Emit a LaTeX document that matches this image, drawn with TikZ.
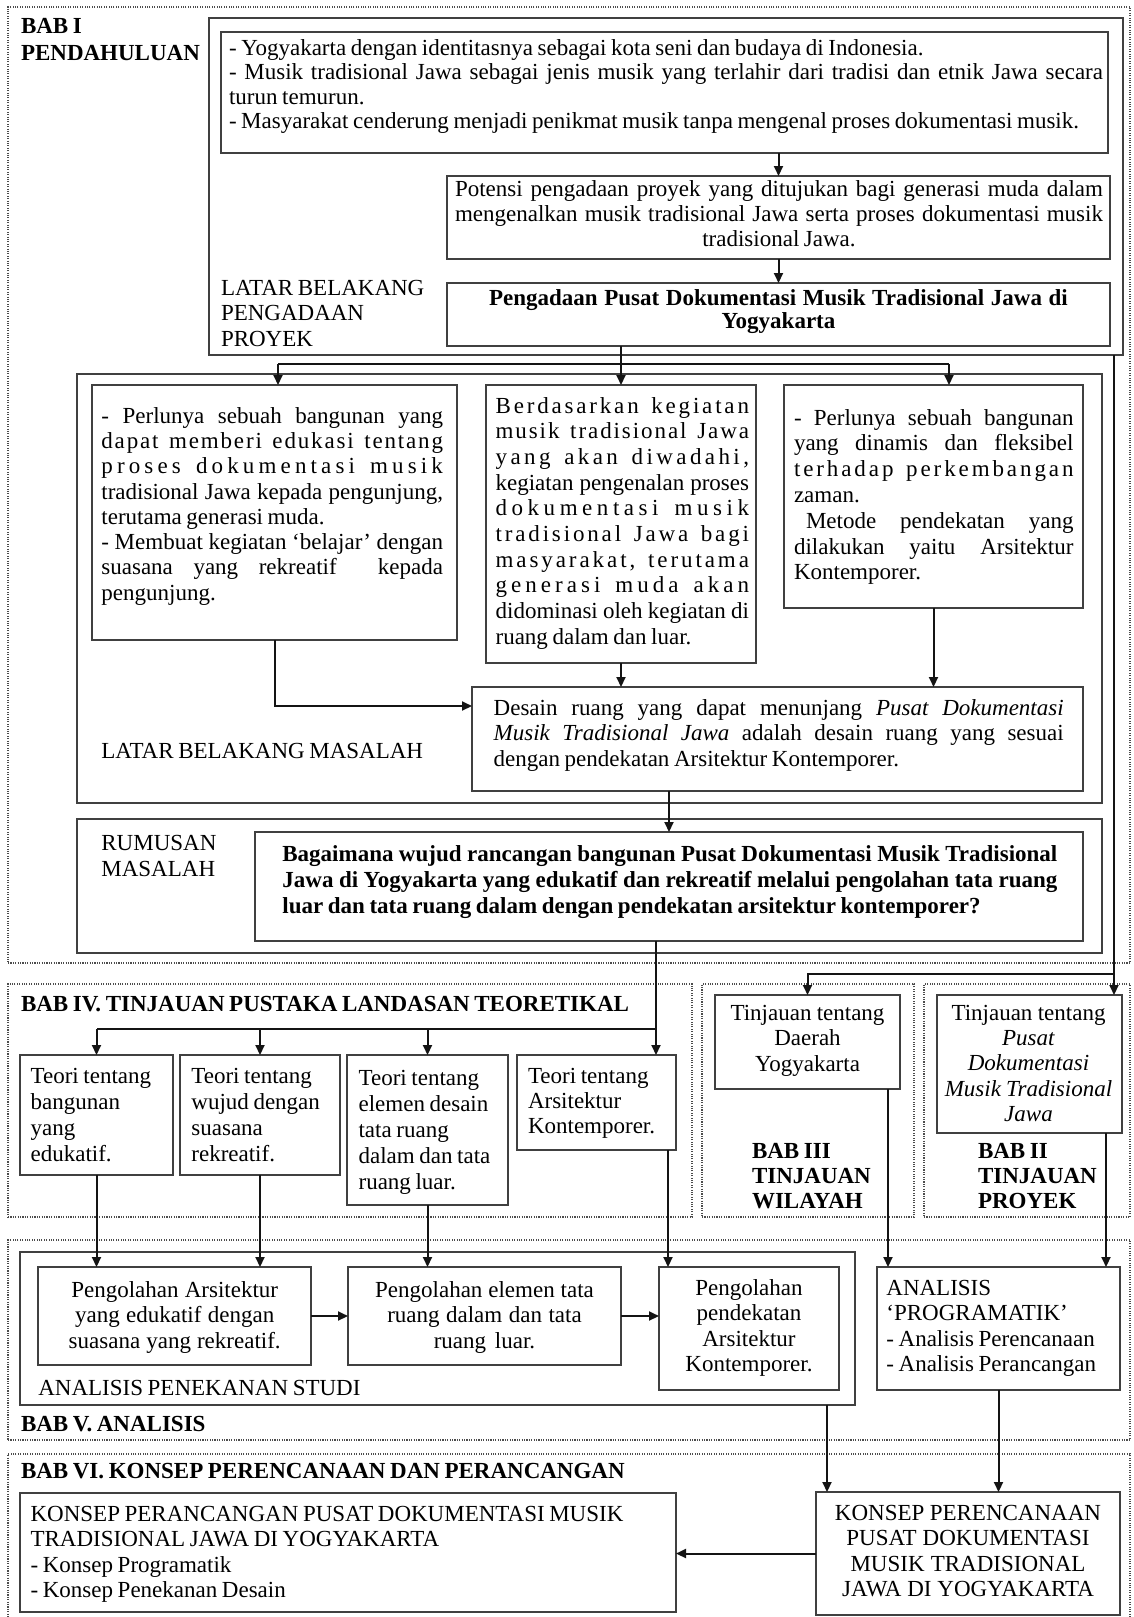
\documentclass[tikz,border=0pt]{standalone}
\usepackage{fontspec}
\setmainfont{Liberation Serif}[WordSpace=0.8]
\usetikzlibrary{arrows.meta,calc}
\makeatletter
\newcommand\spreadword[1]{\@tfor\sw@ch:=#1\do{\sw@ch\hfil}\unskip}
\def\ls@words#1 #2\@nil{\spreadword{#1}\if\relax\detokenize{#2}\relax\else\hfil\hspace{0.3em}\hfil\ls@words#2\@nil\fi}
\newcommand\LS[1]{\makebox[\hsize][s]{\ls@words#1 \@nil}\\}
\makeatother
\newcommand\J[1]{\makebox[\hsize][s]{#1}\\}
\tikzset{
  box/.style={draw=black!75, line width=1.3pt, anchor=north west, inner sep=0pt, outer sep=0pt},
  sect/.style={draw=black!70, line width=1.2pt, dash pattern=on 1.1pt off 1.3pt, anchor=north west, inner sep=0pt, outer sep=0pt},
  arr/.style={line width=2pt, draw=black!92, -{Triangle[length=10pt,width=9pt]}},
  ln/.style={line width=2pt, draw=black!92},
  tnode/.style={inner sep=0pt, outer sep=0pt, anchor=north west, align=left},
  hd/.style={inner sep=0pt, outer sep=0pt, anchor=base west, font=\fontsize{23}{25}\selectfont\bfseries},
  lbl/.style={inner sep=0pt, outer sep=0pt, anchor=base west, font=\fontsize{23}{25}\selectfont},
}
\newcommand\bx[6][box]{\node[#1,minimum width={#5pt-#3pt},minimum height={#6pt-#4pt}] (#2) at (#3,#4) {};}
\newcommand\tn[6]{\node[tnode,font={\fontsize{23}{#5}\selectfont},#2] (#1) at (#3,{#4-0.7*#5}) {\spaceskip=0pt\xspaceskip=0pt\strut #6};}
\begin{document}
\begin{tikzpicture}[x=1pt,y=-1pt]
\useasboundingbox (0,0) rectangle (1133,1617);
\fill[white] (0,0) rectangle (1133,1617);
% sections
\bx[sect]{s1}{8}{7}{1130}{963}
\bx[sect]{s4}{8}{984}{692}{1217}
\bx[sect]{s3}{702}{984}{914}{1217}
\bx[sect]{s2}{924}{984}{1130}{1217}
\bx[sect]{s5}{8}{1240}{1130}{1440}
\bx[sect]{s6}{8}{1454}{1130}{1640}
% boxes
\bx{LBP}{209}{18}{1123}{355}
\bx{box1}{221}{32}{1108}{153}
\bx{potensi}{447}{176}{1110}{259}
\bx{pengadaan}{447}{283}{1110}{346}
\bx{LBM}{77}{374}{1102}{803}
\bx{boxA}{92}{385}{457}{640}
\bx{boxB}{486}{385}{756}{663}
\bx{boxC}{784}{385}{1083}{608}
\bx{desain}{472}{687}{1083}{791}
\bx{rumusan}{77}{819}{1102}{953}
\bx{bagaimana}{255}{832}{1083}{941}
\bx{T1}{20}{1055}{173}{1175}
\bx{T2}{180}{1055}{340}{1175}
\bx{T3}{347}{1055}{508}{1205}
\bx{T4}{517}{1055}{676}{1150}
\bx{TD}{715}{995}{900}{1089}
\bx{TP}{937}{995}{1122}{1133}
\bx{APS}{20}{1252}{855}{1405}
\bx{P1}{38}{1267}{311}{1365}
\bx{P2}{348}{1267}{621}{1365}
\bx{P3}{659}{1267}{839}{1390}
\bx{AP}{877}{1267}{1120}{1390}
\bx{KPR}{20}{1493}{676}{1612}
\bx{KPE}{816}{1492}{1120}{1615}
% headings
\node[hd] (h1a) at (21,33.3) {BAB I};
\node[hd] (h1b) at (21,60) {PENDAHULUAN};
\node[hd] (h4) at (21,1011.7) {BAB IV. TINJAUAN PUSTAKA LANDASAN TEORETIKAL};
\node[hd] (h5) at (21,1431.7) {BAB V. ANALISIS};
\node[hd] (h6) at (21,1478) {BAB VI. KONSEP PERENCANAAN DAN PERANCANGAN};
\node[lbl] (tlbm) at (101.4,758) {LATAR BELAKANG MASALAH};
\node[lbl] (taps) at (38.3,1395) {ANALISIS PENEKANAN STUDI};
% texts
\tn{t1}{text width=874pt}{229}{55}{24.5}{- Yogyakarta dengan identitasnya sebagai kota seni dan budaya di Indonesia.\\\J{- Musik tradisional Jawa sebagai jenis musik yang terlahir dari tradisi dan etnik Jawa secara}turun temurun.\\\makebox[850pt][s]{- Masyarakat cenderung menjadi penikmat musik tanpa mengenal proses dokumentasi musik.}}
\tn{tpot}{text width=648pt}{455}{196.7}{25}{\J{Potensi pengadaan proyek yang ditujukan bagi generasi muda dalam}\J{mengenalkan musik tradisional Jawa serta proses dokumentasi musik}\makebox[\hsize][c]{tradisional Jawa.}}
\tn{tpeng}{anchor=north,text width=660pt,align=center}{778.5}{305}{23.4}{\bfseries Pengadaan Pusat Dokumentasi Musik Tradisional Jawa di\\Yogyakarta}
\tn{tlbp}{text width=220pt}{221}{295}{25.8}{LATAR BELAKANG\\PENGADAAN\\PROYEK}
\tn{tA}{text width=341.6pt}{101.4}{423.3}{25.25}{\J{- Perlunya sebuah bangunan yang}\LS{dapat memberi edukasi tentang}\LS{proses dokumentasi musik}\J{tradisional Jawa kepada pengunjung,}terutama generasi muda.\\\J{- Membuat kegiatan ‘belajar’ dengan}\J{suasana yang rekreatif\ \ kepada}pengunjung.}
\tn{tB}{text width=253.4pt}{495.6}{413}{25.7}{\LS{Berdasarkan kegiatan}\LS{musik tradisional Jawa}\LS{yang akan diwadahi,}\J{kegiatan pengenalan proses}\LS{dokumentasi musik}\LS{tradisional Jawa bagi}\LS{masyarakat, terutama}\LS{generasi muda akan}\J{didominasi oleh kegiatan di}ruang dalam dan luar.}
\tn{tC}{text width=279.5pt}{794}{425}{25.8}{\J{- Perlunya sebuah bangunan}\J{yang dinamis dan fleksibel}\LS{terhadap perkembangan}zaman.\\\J{\hspace{12pt}Metode pendekatan yang}\J{dilakukan yaitu Arsitektur}Kontemporer.}
\tn{tD}{text width=570pt}{493.7}{715}{25.8}{\J{Desain ruang yang dapat menunjang \textit{Pusat Dokumentasi}}\J{\textit{Musik Tradisional Jawa} adalah desain ruang yang sesuai}dengan pendekatan Arsitektur Kontemporer.}
\tn{trum}{text width=150pt}{101.4}{850}{26}{RUMUSAN\\MASALAH}
\tn{tbag}{text width=775pt}{282.4}{861.7}{26}{\bfseries\J{Bagaimana wujud rancangan bangunan Pusat Dokumentasi Musik Tradisional}\J{Jawa di Yogyakarta yang edukatif dan rekreatif melalui pengolahan tata ruang}luar dan tata ruang dalam dengan pendekatan arsitektur kontemporer?}
\tn{tT1}{text width=140pt}{30.6}{1083.3}{26}{Teori tentang\\bangunan\\yang\\edukatif.}
\tn{tT2}{text width=145pt}{191.4}{1083.3}{26}{Teori tentang\\wujud dengan\\suasana\\rekreatif.}
\tn{tT3}{text width=145pt}{358.6}{1085}{26.2}{Teori tentang\\elemen desain\\tata ruang\\dalam dan tata\\ruang luar.}
\tn{tT4}{text width=145pt}{528}{1083}{25}{Teori tentang\\Arsitektur\\Kontemporer.}
\tn{tTD}{anchor=north,text width=180pt,align=center}{807.5}{1020}{25.8}{Tinjauan tentang\\Daerah\\Yogyakarta}
\tn{tTP}{anchor=north,text width=185pt,align=center}{1028.5}{1020}{25.4}{Tinjauan tentang\\\textit{Pusat}\\\textit{Dokumentasi}\\\textit{Musik Tradisional}\\\textit{Jawa}}
\tn{tb3}{text width=150pt}{752}{1158.3}{25}{\bfseries BAB III\\TINJAUAN\\WILAYAH}
\tn{tb2}{text width=150pt}{978}{1158.3}{25}{\bfseries BAB II\\TINJAUAN\\PROYEK}
\tn{tP1}{anchor=north,text width=270pt,align=center}{174.7}{1297}{25.5}{Pengolahan Arsitektur\\yang edukatif dengan\\suasana yang rekreatif.}
\tn{tP2}{anchor=north,text width=270pt,align=center}{484.5}{1297}{25.5}{Pengolahan elemen tata\\ruang dalam dan tata\\ruang luar.}
\tn{tP3}{anchor=north,text width=178pt,align=center}{749}{1295}{25.6}{Pengolahan\\pendekatan\\Arsitektur\\Kontemporer.}
\tn{tAP}{text width=235pt}{886.4}{1295}{25.6}{ANALISIS\\‘PROGRAMATIK’\\- Analisis Perencanaan\\- Analisis Perancangan}
\tn{tKPR}{text width=640pt}{30.6}{1521.7}{25.2}{KONSEP PERANCANGAN PUSAT DOKUMENTASI MUSIK\\TRADISIONAL JAWA DI YOGYAKARTA\\- Konsep Programatik\\- Konsep Penekanan Desain}
\tn{tKPE}{anchor=north,text width=300pt,align=center}{968}{1520}{25.6}{KONSEP PERENCANAAN\\PUSAT DOKUMENTASI\\MUSIK TRADISIONAL\\JAWA DI YOGYAKARTA}
% connectors
\draw[arr] (box1.south -| potensi.north) -- (potensi.north);
\draw[arr] (potensi.south) -- (pengadaan.north);
\coordinate (jA) at (278,364);
\coordinate (jC) at (949,364);
\draw[ln] (jA) -- (jC);
\draw[arr] (boxB.north |- pengadaan.south) -- (boxB.north);
\draw[arr] (jA) -- (jA |- boxA.north);
\draw[arr] (jC) -- (jC |- boxC.north);
\draw[arr] (boxA.south) |- ($(desain.north west)+(0,19)$);
\draw[arr] (boxB.south) -- (boxB.south |- desain.north);
\draw[arr] (boxC.south) -- (boxC.south |- desain.north);
\draw[arr] (bagaimana.north |- desain.south) -- (bagaimana.north);
\coordinate (jT) at (656,1029);
\draw[arr] (jT |- bagaimana.south) -- (jT |- T4.north);
\draw[ln] (jT) -- (T1.north |- jT);
\foreach \t in {T1,T2,T3} \draw[arr] (\t.north |- jT) -- (\t.north);
\coordinate (jR) at (1114,974);
\draw[arr] (jR |- LBP.south) -- (jR |- TP.north);
\draw[arr] (jR) -| (TD.north);
\draw[arr] (T1.south) -- (T1.south |- P1.north);
\draw[arr] (T2.south) -- (T2.south |- P1.north);
\draw[arr] (T3.south) -- (T3.south |- P2.north);
\coordinate (t4o) at ($(T4.south east)+(-8,0)$);
\draw[arr] (t4o) -- (t4o |- P3.north);
\draw[arr] (P1.east) -- (P2.west);
\draw[arr] (P2.east) -- (P2.east -| P3.west);
\coordinate (tdo) at ($(TD.south east)+(-12,0)$);
\draw[arr] (tdo) -- (tdo |- AP.north);
\coordinate (tpo) at ($(TP.south east)+(-16,0)$);
\draw[arr] (tpo) -- (tpo |- AP.north);
\coordinate (apso) at ($(APS.south east)+(-28,0)$);
\draw[arr] (apso) -- (apso |- KPE.north);
\draw[arr] (AP.south) -- (AP.south |- KPE.north);
\draw[arr] (KPE.west) -- (KPE.west -| KPR.east);
\end{tikzpicture}
\end{document}
